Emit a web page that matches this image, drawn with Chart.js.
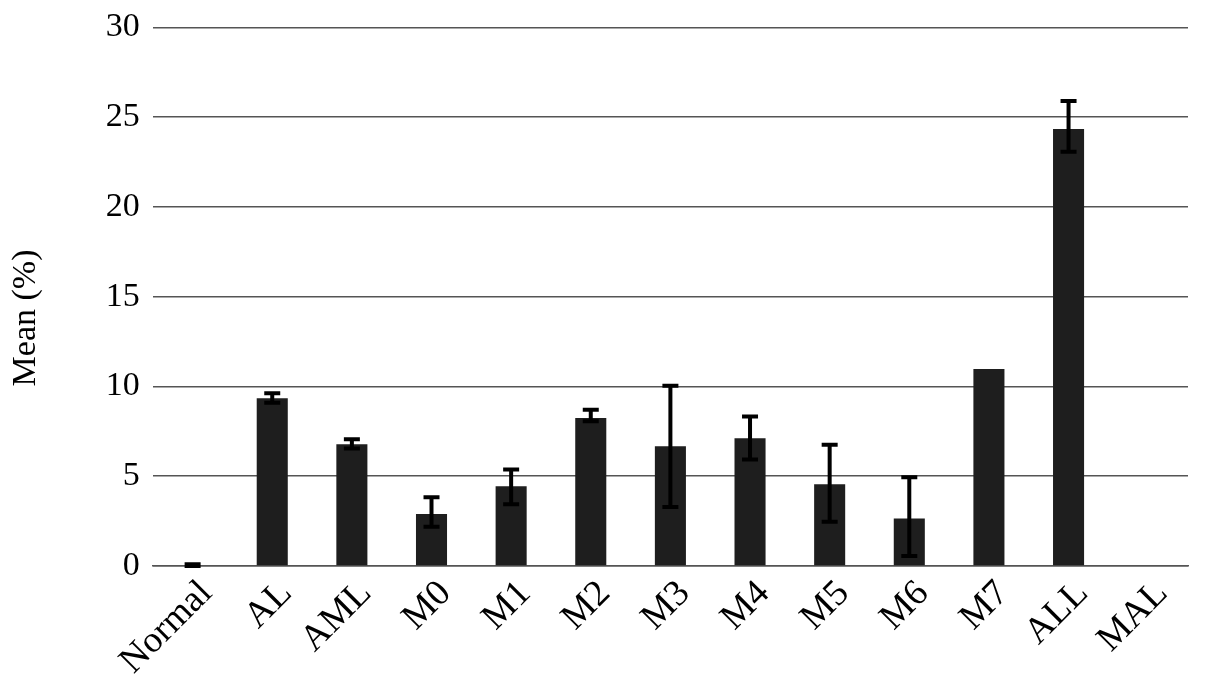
<!DOCTYPE html>
<html>
<head>
<meta charset="utf-8">
<script src="https://cdn.jsdelivr.net/npm/chart.js@4"></script>
<style>
  html, body { margin: 0; padding: 0; background: #fff; }
  #wrap { width: 1205px; height: 696px; position: relative; }
</style>
</head>
<body>
<div id="wrap"><canvas id="chart"></canvas></div>
<script>
// categorias e valores
const categorias = ['Normal', 'AL', 'AML', 'M0', 'M1', 'M2', 'M3', 'M4', 'M5', 'M6', 'M7', 'ALL', 'MAL'];
const medias     = [0, 9.35, 6.78, 2.89, 4.44, 8.24, 6.67, 7.11, 4.56, 2.65, 10.98, 24.35, 0];
// limites das barras de erro (null = sem barra)
const erroInferior = [0, 9.1, 6.55, 2.18, 3.44, 8.07, 3.28, 5.93, 2.46, 0.56, null, 23.07, null];
const erroSuperior = [0.1, 9.63, 7.06, 3.83, 5.37, 8.7, 10.04, 8.33, 6.76, 4.94, null, 25.9, null];
const ticksY = [0, 5, 10, 15, 20, 25, 30];

const fonteSerif = "'Liberation Serif', 'Times New Roman', serif";

// Plugin simples para desenhar as barras de erro
const barrasDeErro = {
  id: 'barrasDeErro',
  afterDatasetsDraw(chart) {
    const ctx = chart.ctx;
    const meta = chart.getDatasetMeta(0);
    const y = chart.scales.y;
    ctx.save();
    ctx.strokeStyle = '#000';
    ctx.lineWidth = 4;
    meta.data.forEach((bar, i) => {
      if (erroSuperior[i] === null) return;
      const x = bar.x;
      const yHi = y.getPixelForValue(erroSuperior[i]);
      const yLo = y.getPixelForValue(erroInferior[i]);
      const cap = 8;
      ctx.beginPath();
      ctx.moveTo(x, yLo);
      ctx.lineTo(x, yHi);
      ctx.moveTo(x - cap, yHi);
      ctx.lineTo(x + cap, yHi);
      ctx.moveTo(x - cap, yLo);
      ctx.lineTo(x + cap, yLo);
      ctx.stroke();
    });
    ctx.restore();
  }
};

const ctx = document.getElementById('chart').getContext('2d');
new Chart(ctx, {
  type: 'bar',
  data: {
    labels: categorias,
    datasets: [{
      data: medias,
      backgroundColor: '#1e1e1e',
      borderWidth: 0,
      barPercentage: 0.39,
      categoryPercentage: 1
    }]
  },
  options: {
    responsive: true,
    maintainAspectRatio: false,
    animation: false,
    layout: { padding: { top: 1, right: 17, left: 2, bottom: 0 } },
    plugins: {
      legend: { display: false },
      tooltip: { enabled: false }
    },
    scales: {
      x: {
        afterFit: axis => { axis.height = 130; },
        grid: { display: false, drawTicks: false },
        border: { display: true, color: '#555', width: 1.5 },
        ticks: {
          color: '#000',
          font: { family: fonteSerif, size: 37 },
          minRotation: 45,
          maxRotation: 45,
          labelOffset: 14,
          padding: 6
        }
      },
      y: {
        min: 0,
        max: 30,
        afterBuildTicks: axis => { axis.ticks = ticksY.map(v => ({ value: v })); },
        grid: { color: '#555', lineWidth: 1.5, drawTicks: false },
        border: { display: false },
        ticks: {
          color: '#000',
          font: { family: fonteSerif, size: 34, lineHeight: 0.85 },
          padding: 13
        },
        title: {
          display: true,
          // espaços no fim deslocam o título um pouco para baixo, como no original
          text: 'Mean (%)\u00a0\u00a0\u00a0\u00a0\u00a0',
          color: '#000',
          font: { family: fonteSerif, size: 34 },
          padding: { bottom: 46 }
        }
      }
    }
  },
  plugins: [barrasDeErro]
});
</script>
</body>
</html>
